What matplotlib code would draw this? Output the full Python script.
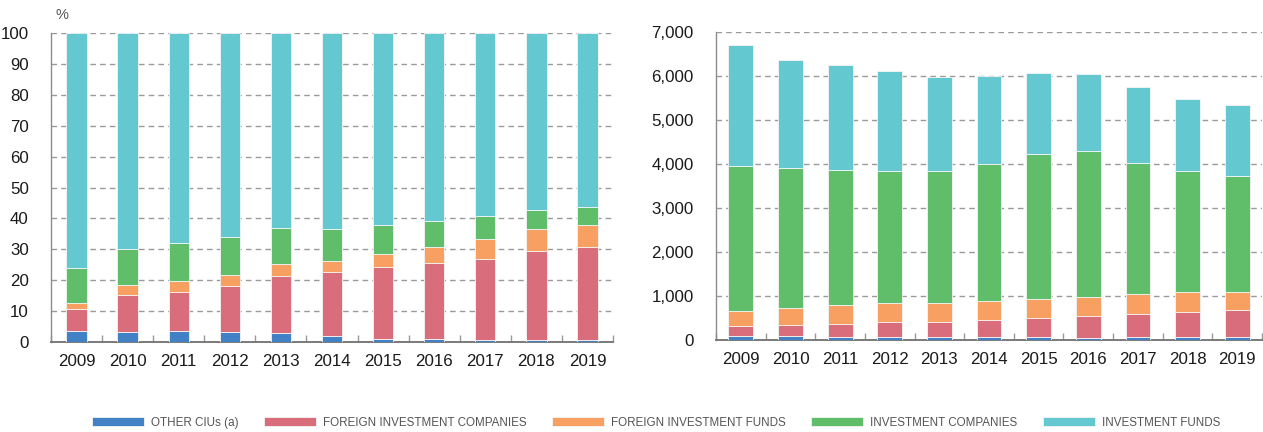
import matplotlib

matplotlib.use("Agg")
import matplotlib.pyplot as plt
import numpy as np
from matplotlib.ticker import FuncFormatter, MultipleLocator

years = ["2009", "2010", "2011", "2012", "2013", "2014", "2015", "2016", "2017", "2018", "2019"]
series = ["OTHER CIUs (a)", "FOREIGN INVESTMENT COMPANIES", "FOREIGN INVESTMENT FUNDS",
          "INVESTMENT COMPANIES", "INVESTMENT FUNDS"]
colors = ["#4281C5", "#D96D7C", "#F89F62", "#60BD69", "#64C8D0"]

# left panel: share of total, %
pct_other = [3.7, 3.3, 3.6, 3.1, 2.8, 1.9, 0.9, 0.9, 0.8, 0.8, 0.8]
pct_foreign_co = [7.1, 11.8, 12.7, 15.0, 18.7, 20.9, 23.5, 24.8, 26.2, 28.8, 29.9]
pct_foreign_funds = [1.9, 3.4, 3.6, 3.6, 3.8, 3.4, 4.0, 5.0, 6.4, 6.9, 7.2]
pct_inv_co = [11.2, 11.5, 12.3, 12.4, 11.5, 10.5, 9.5, 8.6, 7.4, 6.3, 5.9]
pct_inv_funds = [76.1, 70.0, 67.8, 65.9, 63.2, 63.3, 62.1, 60.7, 59.2, 57.2, 56.2]

# right panel: number of entities
n_other = [83, 83, 68, 68, 68, 68, 61, 53, 61, 61, 68]
n_foreign_co = [243, 265, 303, 341, 341, 394, 431, 500, 537, 583, 621]
n_foreign_funds = [326, 372, 417, 424, 424, 417, 432, 424, 440, 439, 394]
n_inv_co = [3295, 3189, 3076, 3008, 3008, 3121, 3303, 3318, 2992, 2758, 2652]
n_inv_funds = [2758, 2462, 2378, 2265, 2129, 1992, 1841, 1758, 1712, 1636, 1606]

pct = [pct_other, pct_foreign_co, pct_foreign_funds, pct_inv_co, pct_inv_funds]
counts = [n_other, n_foreign_co, n_foreign_funds, n_inv_co, n_inv_funds]

plt.rcParams["font.family"] = ["Liberation Sans", "DejaVu Sans"]

fig = plt.figure(figsize=(12.63, 4.32), dpi=100)
ax_l = fig.add_axes([51 / 1263, 1 - 342 / 432, (613 - 51) / 1263, (342 - 33) / 432])
ax_r = fig.add_axes([716 / 1263, 1 - 340 / 432, (1262 - 716) / 1263, (340 - 32) / 432])

x = np.arange(len(years))


def stack(ax, data, width):
    bottom = np.zeros(len(years))
    handles = []
    for vals, name, c in zip(data, series, colors):
        vals = np.array(vals, dtype=float)
        h = ax.bar(x, vals, width, bottom=bottom, color=c, edgecolor="#f4f4f4",
                   linewidth=0.6, label=name, zorder=3)
        handles.append(h)
        bottom += vals
    return handles


def style(ax):
    ax.set_xlim(-0.5, len(years) - 0.5)
    ax.set_xticks(x)
    ax.set_xticklabels(years)
    ax.set_xticks(np.arange(-0.5, len(years)), minor=True)
    ax.tick_params(axis="x", which="major", length=0, pad=9, labelsize=12.2, labelcolor="#1a1a1a")
    ax.tick_params(axis="x", which="minor", direction="in", length=5, width=1, color="#999999")
    ax.tick_params(axis="y", length=0, pad=16, labelsize=12.2, labelcolor="#1a1a1a")
    for s in ("top", "right"):
        ax.spines[s].set_visible(False)
    ax.spines["left"].set_color("#8c8c8c")
    ax.spines["left"].set_linewidth(1.0)
    ax.spines["bottom"].set_color("#7a7a7a")
    ax.spines["bottom"].set_linewidth(1.4)
    ax.grid(axis="y", color="#9a9a9a", ls=(0, (4, 3)), lw=1.0, zorder=0)
    ax.set_axisbelow(True)


handles = stack(ax_l, pct, 0.4)
style(ax_l)
ax_l.set_ylim(0, 100)
ax_l.yaxis.set_major_locator(MultipleLocator(10))
ax_l.text(55 / 1263, 1 - 15 / 432, "%", transform=fig.transFigure, fontsize=10.5,
          color="#555555", va="center", ha="left")

stack(ax_r, counts, 0.5)
style(ax_r)
ax_r.set_ylim(0, 7000)
ax_r.yaxis.set_major_locator(MultipleLocator(1000))
ax_r.yaxis.set_major_formatter(FuncFormatter(lambda v, _: f"{int(v):,}"))

# legend: wide flat swatches, condensed-looking grey caps
fig.legend(handles, series, loc="center", bbox_to_anchor=(656 / 1263, 1 - 422.7 / 432), ncol=5,
           frameon=False, prop={"size": 8.4}, labelcolor="#555555",
           handlelength=4.45, handleheight=0.75, handletextpad=0.6, columnspacing=2.2,
           borderpad=0, borderaxespad=0)

fig.savefig("out.png", dpi=100)
